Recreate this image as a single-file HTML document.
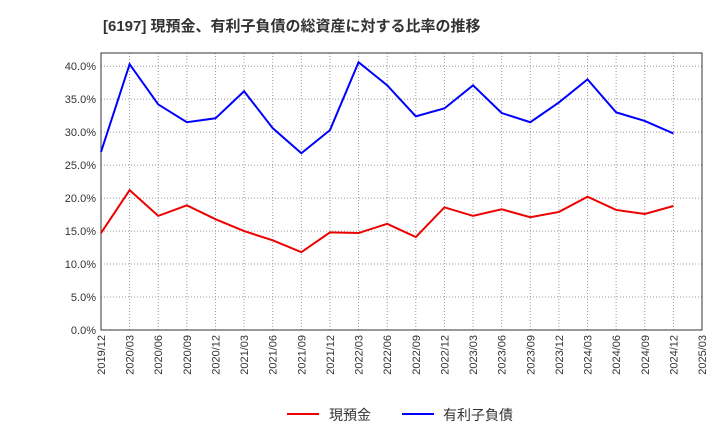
<!DOCTYPE html>
<html><head><meta charset="utf-8">
<style>
body{margin:0;background:#fff;}
svg{display:block;font-family:"Liberation Sans","Noto Sans CJK JP",sans-serif;}
</style></head>
<body>
<svg id="chart" width="720" height="440" viewBox="0 0 720 440">
<text x="103" y="31" font-size="15" font-weight="bold" fill="#333">[6197]  現預金、有利子負債の総資産に対する比率の推移</text>
<g id="grid"></g>
<g id="axes"></g>
<g id="series"></g>
<g>
<line x1="287" y1="414" x2="319" y2="414" stroke="#e00" stroke-width="2"/>
<text x="329" y="420" font-size="14" fill="#333">現預金</text>
<line x1="402" y1="414" x2="434" y2="414" stroke="#00f" stroke-width="2"/>
<text x="443" y="420" font-size="14" fill="#333">有利子負債</text>
</g>
</svg>
<script>
const xLabels=["2019/12","2020/03","2020/06","2020/09","2020/12","2021/03","2021/06","2021/09","2021/12","2022/03","2022/06","2022/09","2022/12","2023/03","2023/06","2023/09","2023/12","2024/03","2024/06","2024/09","2024/12","2025/03"];
const yTicks=[0,5,10,15,20,25,30,35,40];
const cashValues=[14.7,21.2,17.3,18.9,16.8,15.0,13.6,11.8,14.8,14.7,16.1,14.1,18.6,17.3,18.3,17.1,17.9,20.2,18.2,17.6,18.8];
const debtValues=[27.0,40.3,34.2,31.5,32.1,36.2,30.6,26.8,30.3,40.6,37.1,32.4,33.6,37.1,32.9,31.5,34.5,38.0,33.0,31.7,29.8];
const L=101,R=702,T=53,B=330,yMax=42;
const NS="http://www.w3.org/2000/svg";
function xs(i){return L+(R-L)*i/(xLabels.length-1);}
function ys(v){return B-(B-T)*v/yMax;}
function mk(tag,attrs,parent){const e=document.createElementNS(NS,tag);for(const k in attrs)e.setAttribute(k,attrs[k]);parent.appendChild(e);return e;}
const grid=document.getElementById('grid'),axes=document.getElementById('axes'),series=document.getElementById('series');
yTicks.forEach(v=>{
  const y=ys(v);
  const gl=mk('line',{x1:L,x2:R,y1:y,y2:y,stroke:'#999','stroke-dasharray':'1,2','stroke-width':1},grid);
  
  
  const t=mk('text',{x:L-5,y:y+4,'text-anchor':'end','font-size':11,fill:'#333'},axes);
  t.textContent=v.toFixed(1)+'%';
  
  
});
xLabels.forEach((lab,i)=>{
  const x=xs(i);
  const gl=mk('line',{x1:x,x2:x,y1:T,y2:B,stroke:'#999','stroke-dasharray':'1,2','stroke-width':1},grid);
  
  
  const t=mk('text',{x:0,y:0,'text-anchor':'end','font-size':11,fill:'#333',transform:`translate(${x+4},${B+5}) rotate(-90)`},axes);
  t.textContent=lab;
  
  
});
const frame=mk('rect',{x:L,y:T,width:R-L,height:B-T,fill:'none',stroke:'#333','stroke-width':1},axes);


function line(vals,color,name){
  const p=mk('polyline',{points:vals.map((v,i)=>xs(i)+','+ys(v)).join(' '),fill:'none',stroke:color,'stroke-width':2},series);
  
  
}
line(cashValues,'#e00','cash-line');
line(debtValues,'#00f','debt-line');
</script>
</body></html>
